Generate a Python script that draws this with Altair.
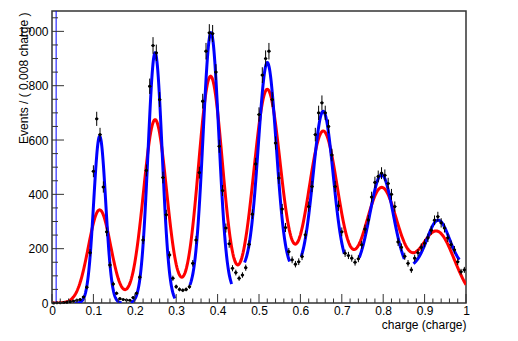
import altair as alt
import numpy as np
import pandas as pd

# ---------------- data ----------------
bin_width = 0.008
first_center = 0.004
counts = [0, 1, 1, 2, 3, 5, 7, 10, 13, 22,
          58, 185, 485, 678, 620, 427, 262, 140, 70, 36,
          16, 13, 11, 10, 20, 36, 95, 232, 488, 798,
          948, 921, 749, 462, 325, 177, 91, 60, 50, 47,
          50, 60, 146, 232, 480, 743, 927, 995, 992, 850,
          577, 414, 276, 218, 128, 112, 91, 103, 130, 216,
          327, 512, 694, 839, 900, 927, 749, 589, 460, 346,
          278, 189, 159, 143, 152, 171, 251, 355, 429, 620,
          700, 737, 700, 650, 545, 429, 358, 262, 183, 175,
          165, 150, 163, 214, 272, 306, 390, 444, 466, 478,
          470, 440, 400, 355, 225, 205, 172, 146, 122, 165,
          185, 205, 220, 240, 268, 305, 318, 295, 276, 240,
          215, 196, 152, 115, 122]

# red model: sum of gaussians (fit parameters)
red_mu = [0.115, 0.249, 0.383, 0.520, 0.655, 0.796, 0.929]
red_amp = [343, 675, 835, 786, 632, 423, 263]
red_sigma = [0.027, 0.028, 0.029, 0.033, 0.037, 0.041, 0.043]

# blue: separate gaussian (+ constant) fits in windows
blue_mu = [0.1152, 0.249, 0.384, 0.520, 0.655, 0.796, 0.933]
blue_peak = [614, 921, 995, 885, 706, 472, 305]
blue_sigma = [0.0145, 0.017, 0.019, 0.0215, 0.024, 0.028, 0.027]
blue_base = [0, 0, 40, 120, 120, 110, 130]
blue_lo = [0.055, 0.190, 0.333, 0.465, 0.602, 0.742, 0.873]
blue_hi = [0.168, 0.297, 0.434, 0.574, 0.706, 0.851, 0.984]

blue_marker_x = 0.01

x_major = [0, 0.1, 0.2, 0.3, 0.4, 0.5, 0.6, 0.7, 0.8, 0.9, 1.0]
x_minor = [0.02, 0.04, 0.06, 0.08, 0.12, 0.14, 0.16, 0.18, 0.22, 0.24, 0.26, 0.28,
           0.32, 0.34, 0.36, 0.38, 0.42, 0.44, 0.46, 0.48, 0.52, 0.54, 0.56, 0.58,
           0.62, 0.64, 0.66, 0.68, 0.72, 0.74, 0.76, 0.78, 0.82, 0.84, 0.86, 0.88,
           0.92, 0.94, 0.96, 0.98]
y_major = [0, 200, 400, 600, 800, 1000]
y_minor = [50, 100, 150, 250, 300, 350, 450, 500, 550, 650, 700, 750, 850, 900, 950, 1050]

YMAX = 1075
W, H = 414, 292
FONT = "Liberation Sans"

# ---------------- tables ----------------
centers = [round(first_center + bin_width * k, 4) for k in range(len(counts))]
df = pd.DataFrame({"x": centers, "n": counts})
err = np.sqrt(df["n"].astype(float))
df["lo"] = df["n"] - err
df["hi"] = df["n"] + err
df["xl"] = df["x"] - bin_width / 2
df["xr"] = df["x"] + bin_width / 2

xg = np.linspace(0, 1, 601)
yr = np.zeros_like(xg)
for m, a, s in zip(red_mu, red_amp, red_sigma):
    yr += a * np.exp(-0.5 * ((xg - m) / s) ** 2)
red_df = pd.DataFrame({"x": xg, "y": yr})

rows = []
for i in range(len(blue_mu)):
    xs = np.linspace(blue_lo[i], blue_hi[i], 150)
    ys = blue_base[i] + (blue_peak[i] - blue_base[i]) * np.exp(-0.5 * ((xs - blue_mu[i]) / blue_sigma[i]) ** 2)
    for a, b in zip(xs, ys):
        rows.append({"x": a, "y": b, "seg": i})
blue_df = pd.DataFrame(rows)

xscale = alt.Scale(domain=[0, 1], nice=False, zero=False)
yscale = alt.Scale(domain=[0, YMAX], nice=False, zero=False)

x_axis = alt.Axis(values=x_major, format="~g", ticks=False, domain=False, grid=False,
                  labelFont=FONT, labelFontSize=12, labelColor="black", labelPadding=2,
                  labelFlush=False,
                  title="charge (charge)", titleFont=FONT, titleFontSize=12, titleFontWeight="normal",
                  titleColor="black", titleX=W, titleY=25, titleAlign="right",
                  titleBaseline="alphabetic", titleAnchor="end")
y_axis = alt.Axis(values=y_major, ticks=False, domain=False, grid=False,
                  labelFont=FONT, labelFontSize=12, labelColor="black", labelPadding=4,
                  title="Events / ( 0.008 charge )", titleFont=FONT, titleFontSize=12,
                  titleFontWeight="normal", titleColor="black", titleAngle=270,
                  titleX=-25, titleY=1, titleAlign="right", titleBaseline="alphabetic")


def X(field):
    return alt.X(field, scale=xscale, axis=x_axis)


def Y(field):
    return alt.Y(field, scale=yscale, axis=y_axis)


red = alt.Chart(red_df).mark_line(color="#ff0000", strokeWidth=3, clip=True).encode(
    x=X("x:Q"), y=Y("y:Q"),
)
blue = alt.Chart(blue_df).mark_line(color="#0000ff", strokeWidth=3, clip=True).encode(
    x=X("x:Q"), y=Y("y:Q"), detail="seg:N",
)
vline = alt.Chart(pd.DataFrame({"x": [blue_marker_x]})).mark_rule(color="#0000ff", strokeWidth=1).encode(
    x=X("x:Q"), y=alt.value(0), y2=alt.value(H),
)
ebar_v = alt.Chart(df).mark_rule(color="black", strokeWidth=1, clip=True).encode(
    x=X("x:Q"), y=Y("lo:Q"), y2="hi:Q",
)
ebar_h = alt.Chart(df).mark_rule(color="black", strokeWidth=1, clip=True).encode(
    x=X("xl:Q"), x2="xr:Q", y=Y("n:Q"),
)
pts = alt.Chart(df).mark_point(filled=True, shape="circle", size=10, color="black", opacity=1).encode(
    x=X("x:Q"), y=Y("n:Q"),
)

tick_col = "#333333"
xt_major = alt.Chart(pd.DataFrame({"t": x_major})).mark_rule(color=tick_col, strokeWidth=1).encode(
    x=X("t:Q"), y=alt.value(H), y2=alt.value(H - 9))
xt_minor = alt.Chart(pd.DataFrame({"t": x_minor})).mark_rule(color=tick_col, strokeWidth=1).encode(
    x=X("t:Q"), y=alt.value(H), y2=alt.value(H - 4.5))
yt_major = alt.Chart(pd.DataFrame({"t": y_major})).mark_rule(color=tick_col, strokeWidth=1).encode(
    y=Y("t:Q"), x=alt.value(0), x2=alt.value(12))
yt_minor = alt.Chart(pd.DataFrame({"t": y_minor})).mark_rule(color=tick_col, strokeWidth=1).encode(
    y=Y("t:Q"), x=alt.value(0), x2=alt.value(6))

chart = alt.layer(
    red, blue, vline, ebar_v, ebar_h, pts, xt_major, xt_minor, yt_major, yt_minor
).properties(
    width=W, height=H,
    autosize=alt.AutoSizeParams(type="none"),
    padding={"left": 44, "top": 3, "right": 44, "bottom": 30},
    background="white",
).configure_view(
    stroke="#333333", strokeWidth=1.5
)

chart.save("out.html", embed_options={"renderer": "svg", "actions": False})
